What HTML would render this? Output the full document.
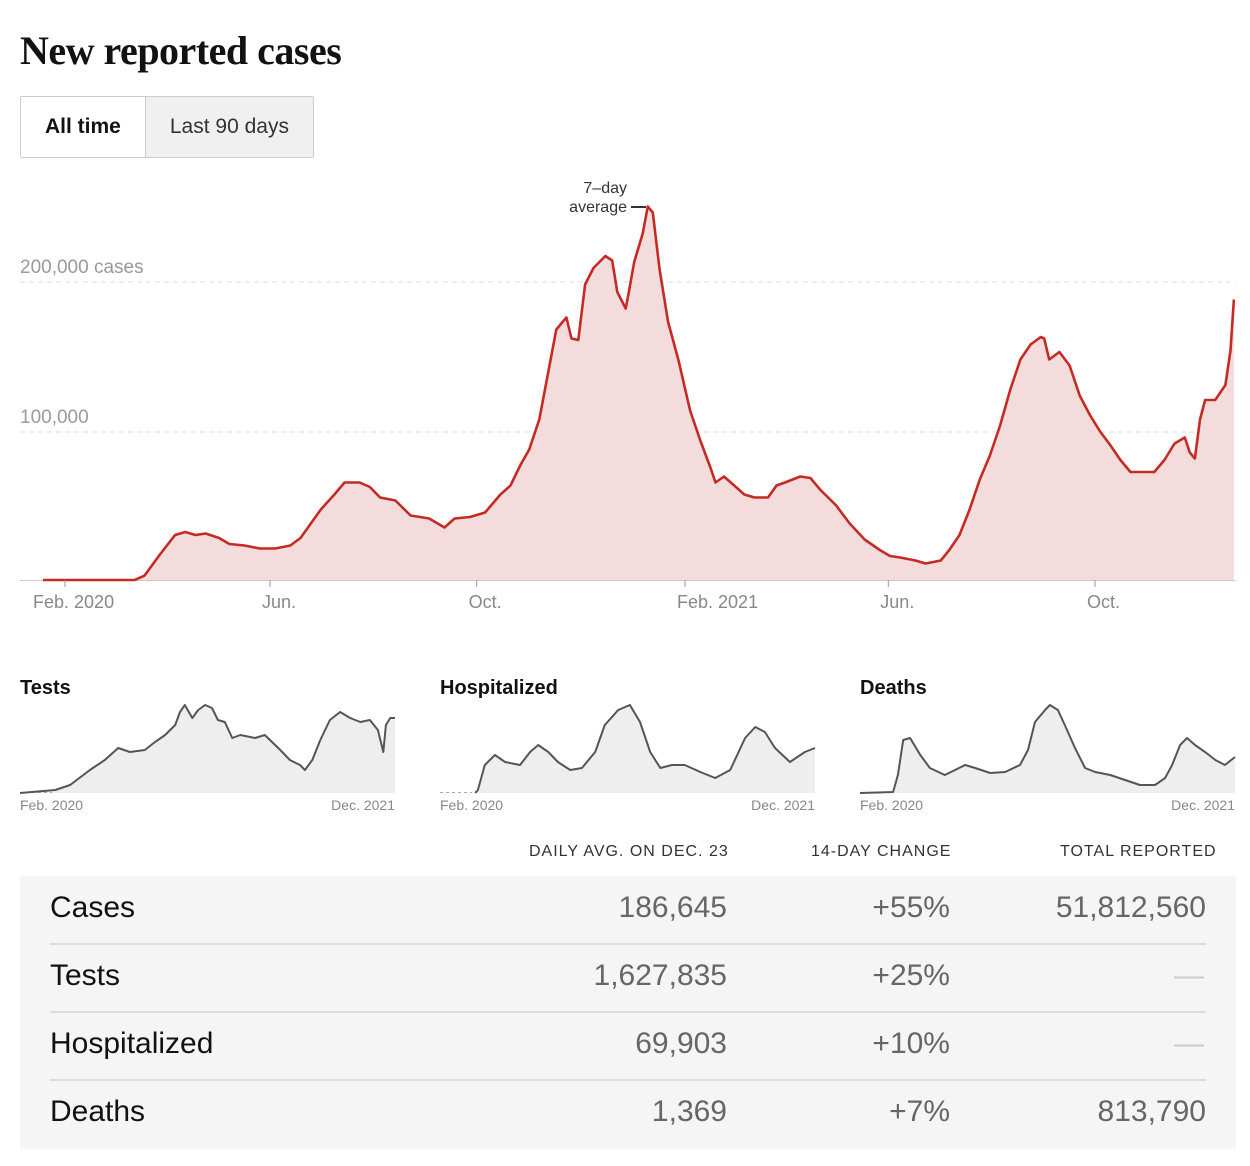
<!DOCTYPE html>
<html><head><meta charset="utf-8">
<style>
body{margin:0;background:#fff;font-family:"Liberation Sans",sans-serif;width:1250px;height:1166px;overflow:hidden;position:relative}
.title{position:absolute;left:20px;top:27px;font-family:"Liberation Serif",serif;font-weight:bold;font-size:40px;color:#121212;letter-spacing:-0.5px}
.tabs{position:absolute;left:20px;top:96px;height:60px;display:flex;border:1px solid #ccc;border-radius:2px}
.tab{height:60px;line-height:60px;font-size:21px;padding:0 24px;color:#333}
.tab.on{font-weight:bold;color:#121212;background:#fff}
.tab.off{background:#f0f0f0;border-left:1px solid #ccc}
svg{position:absolute;left:0;top:0}
.hdr{position:absolute;top:843px;font-size:16px;letter-spacing:1px;color:#333}
.tbl{position:absolute;left:20px;top:876px;width:1216px;height:273px;background:#f5f5f5}
.row{position:absolute;left:30px;width:1156px;height:67px;border-bottom:2px solid #ddd;font-size:30px;color:#121212}
.row span{position:absolute;top:15px}
.num{color:#666}
</style></head><body>
<div class="title">New reported cases</div>
<div class="tabs">
<div class="tab on">All time</div>
<div class="tab off">Last 90 days</div>
</div>
<svg id="chart" width="1250" height="830"></svg>
<div class="hdr" style="left:529px">DAILY AVG. ON DEC. 23</div>
<div class="hdr" style="left:811px">14-DAY CHANGE</div>
<div class="hdr" style="left:1060px">TOTAL REPORTED</div>
<div class="tbl">
<div class="row" style="top:0"><span style="left:0">Cases</span><span class="num" style="right:479px">186,645</span><span class="num" style="right:256px">+55%</span><span class="num" style="right:0">51,812,560</span></div>
<div class="row" style="top:68px"><span style="left:0">Tests</span><span class="num" style="right:479px">1,627,835</span><span class="num" style="right:256px">+25%</span><span class="num" style="right:2px;color:#ccc">—</span></div>
<div class="row" style="top:136px"><span style="left:0">Hospitalized</span><span class="num" style="right:479px">69,903</span><span class="num" style="right:256px">+10%</span><span class="num" style="right:2px;color:#ccc">—</span></div>
<div class="row" style="top:204px;border:none"><span style="left:0">Deaths</span><span class="num" style="right:479px">1,369</span><span class="num" style="right:256px">+7%</span><span class="num" style="right:0">813,790</span></div>
</div>
<script>
const caseDays=[0,54,60,69,78,84,90,96,104,110,119,128,137,146,152,164,172,178,187,193,199,208,217,228,231,237,243,252,261,270,276,282,287,293,298,303,309,312,316,320,325,332,336,339,344,346,349,354,357,360,364,369,375,382,388,394,397,402,408,414,420,428,433,438,447,453,459,468,476,485,494,500,506,515,521,530,535,541,547,553,559,565,571,577,583,589,591,594,600,606,612,618,624,630,636,642,648,656,662,668,674,677,680,683,686,692,698,701,703];
const caseVals=[0,0,3,17,30,32,30,31,28,24,23,21,21,23,28,47,57,65,65,62,55,53,43,41,39,35,41,42,45,57,63,77,87,107,137,167,175,161,160,197,208,216,213,192,181,193,212,231,249,245,207,172,147,113,93,75,65,69,63,57,55,55,63,65,69,68,60,50,38,27,20,16,15,13,11,13,20,30,47,67,83,103,127,147,157,162,161,147,152,143,123,110,99,90,80,72,72,72,80,91,95,85,81,107,120,120,130,153,187];
const yTicks=[100,200];
const xTickLabels=["Feb. 2020","Jun.","Oct.","Feb. 2021","Jun.","Oct."];
const xTickDays=[13,134,256,379,499,621];
const testDays=[0,66,94,131,159,184,206,234,253,272,291,300,309,323,334,347,360,371,384,398,413,441,459,488,506,525,534,548,563,581,600,619,638,656,671,681,686,694,703];
const testVals=[0,3,8,23,33,45,41,43,51,58,68,81,88,75,83,88,85,73,71,55,58,55,58,43,33,28,23,33,53,73,81,75,71,73,63,41,68,75,75];
const hospDays=[0,66,71,84,103,122,150,169,184,203,221,244,266,291,309,334,356,375,394,413,435,459,488,516,544,572,591,609,628,656,684,703];
const hospVals=[0,0,3,28,38,31,28,41,48,41,31,23,25,41,68,83,88,71,41,25,28,28,21,15,23,55,66,61,45,31,41,45];
const deathDays=[0,62,71,81,94,113,131,159,178,197,216,244,272,300,315,328,347,356,371,384,403,422,441,469,497,525,553,572,585,600,613,628,647,666,684,703];
const deathVals=[0,1,18,53,55,38,25,18,23,28,25,20,21,28,43,71,83,88,83,68,45,25,21,18,13,8,8,15,28,48,55,48,41,33,28,36];

const NS="http://www.w3.org/2000/svg";
const svg=document.getElementById('chart');
function mk(t,a){const e=document.createElementNS(NS,t);for(const k in a)e.setAttribute(k,a[k]);svg.appendChild(e);return e;}
const X=d=>43+d*1.694, Y=v=>580-v*1.5;
yTicks.forEach((t,i)=>{
 const l=mk('line',{x1:20,x2:1236,y1:Y(t)+2,y2:Y(t)+2,stroke:'#ddd','stroke-dasharray':'5,4'});
 
 
 const tx=mk('text',{x:20,y:Y(t)-7,'font-size':19,fill:'#999','font-family':'Liberation Sans'});
 tx.textContent=i==1?t+',000 cases':t+',000';
 
 
});
const n=Math.min(caseDays.length,caseVals.length);
let pts=[];for(let i=0;i<n;i++)pts.push(X(caseDays[i]).toFixed(1)+','+Y(caseVals[i]).toFixed(1));
const area=mk('path',{d:'M'+X(0)+','+Y(0)+' L'+pts.join(' L')+' L'+X(caseDays[n-1])+','+Y(0)+'Z',fill:'#f4dcdc'});


const ax=mk('line',{x1:20,x2:1236,y1:580.5,y2:580.5,stroke:'#ccc'});


const line=mk('polyline',{points:pts.join(' '),fill:'none',stroke:'#c42b24','stroke-width':2.6,'stroke-linejoin':'round'});


xTickDays.forEach((d,i)=>{
 mk('line',{x1:X(d),x2:X(d),y1:580,y2:587,stroke:'#999'});
 const t=mk('text',{x:i==0?X(d)-32:X(d)-8,y:608,'font-size':18,fill:'#888','font-family':'Liberation Sans'});
 t.textContent=xTickLabels[i];
 
 
});
const a1=mk('text',{x:627,y:193,'font-size':16,fill:'#333','text-anchor':'end','font-family':'Liberation Sans'});a1.textContent='7–day';


const a2=mk('text',{x:627,y:212,'font-size':16,fill:'#333','text-anchor':'end','font-family':'Liberation Sans'});a2.textContent='average';


mk('line',{x1:631,x2:646,y1:207,y2:207,stroke:'#333','stroke-width':2});

function small(x0,title,days,vals,name){
 const sx=d=>x0+d*375/703, sy=v=>793-v;
 const t=mk('text',{x:x0,y:694,'font-size':20,'font-weight':'bold',fill:'#121212','font-family':'Liberation Sans'});t.textContent=title;
 
 
 const p=days.map((d,i)=>sx(d).toFixed(1)+','+sy(vals[i]).toFixed(1));
 const ar=mk('path',{d:'M'+x0+',793 L'+p.join(' L')+' L'+(x0+375)+',793Z',fill:'#eee'});
 
 
 mk('line',{x1:x0,x2:x0+32,y1:792.5,y2:792.5,stroke:'#aaa','stroke-dasharray':'3,3'});
 const first=days.findIndex((d,i)=>vals[i]>0)-1;
 const ln=mk('polyline',{points:p.slice(Math.max(first,0)).join(' '),fill:'none',stroke:'#555','stroke-width':2,'stroke-linejoin':'round'});
 
 
 const l1=mk('text',{x:x0,y:810,'font-size':14,fill:'#888','font-family':'Liberation Sans'});l1.textContent='Feb. 2020';
 
 
 const l2=mk('text',{x:x0+375,y:810,'font-size':14,fill:'#888','text-anchor':'end','font-family':'Liberation Sans'});l2.textContent='Dec. 2021';
 
 
}
small(20,'Tests',testDays,testVals,'tests');
small(440,'Hospitalized',hospDays,hospVals,'hospitalized');
small(860,'Deaths',deathDays,deathVals,'deaths');
</script>
</body></html>
